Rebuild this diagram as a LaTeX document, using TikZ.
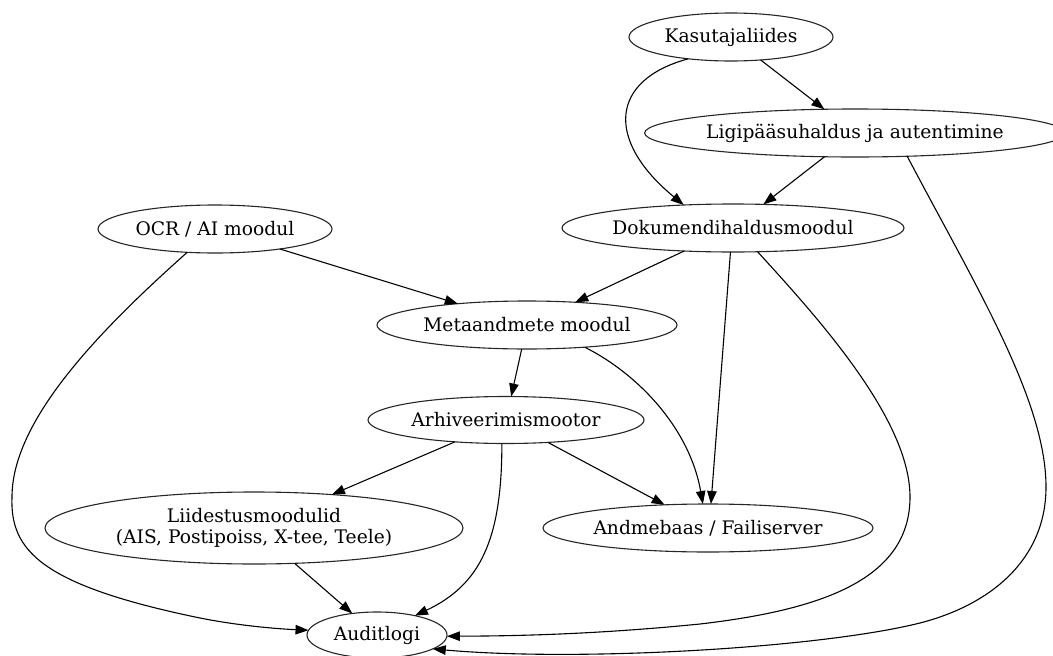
\documentclass[tikz,border=0pt]{standalone}
\usepackage{fontspec}
\setmainfont{DejaVu Serif}
\usetikzlibrary{shapes.geometric,arrows.meta}
\begin{document}
\begin{tikzpicture}[x=1pt,y=-1pt,
  every node/.style={font=\fontsize{18.67}{21}\selectfont},
  box/.style={draw=black!85, line width=1.1pt, ellipse, inner sep=0pt, outer sep=0pt, align=center},
  edge/.style={draw=black, line width=1.1pt, -{Triangle[length=13pt,width=9.5pt]}}]
\useasboundingbox (0,0) rectangle (1053,656);
\clip (0,0) rectangle (1053,656);
\node[box, minimum width=204pt, minimum height=48pt] (k) at (731,37) {Kasutajaliides};
\node[box, minimum width=420pt, minimum height=48pt] (l) at (855,133) {Ligipääsuhaldus ja autentimine};
\node[box, minimum width=342pt, minimum height=48pt] (d) at (733,228) {Dokumendihaldusmoodul};
\node[box, minimum width=234pt, minimum height=48pt] (o) at (215,229) {OCR / AI moodul};
\node[box, minimum width=300pt, minimum height=48pt] (m) at (527,325) {Metaandmete moodul};
\node[box, minimum width=276pt, minimum height=47pt] (r) at (506,420) {Arhiveerimismootor};
\node[box, minimum width=418pt, minimum height=72pt] (li) at (254,528) {Liidestusmoodulid\\(AIS, Postipoiss, X-tee, Teele)};
\node[box, minimum width=330pt, minimum height=48pt] (b) at (708,528) {Andmebaas / Failiserver};
\node[box, minimum width=140pt, minimum height=46pt] (a) at (377,635) {Auditlogi};

\path[edge] (k) -- (l);
\path[edge] (k.207) .. controls (610,80) and (605,140) .. (d.155);
\path[edge] (l) -- (d);
\path[edge] (l.-24) .. controls (975,285) and (1046,400) .. (1046,487)
  .. controls (1046,560) and (990,605) .. (920,623)
  .. controls (820,648) and (580,662) .. (a.-14);
\path[edge] (d) -- (m);
\path[edge] (d.-96) -- (b.83);
\path[edge] (d.-44) .. controls (820,320) and (910,420) .. (910,497)
  .. controls (910,580) and (820,610) .. (700,624)
  .. controls (600,634) and (520,636) .. (a.-1);
\path[edge] (o) -- (m);
\path[edge] (o.220) .. controls (100,330) and (12,420) .. (12,497)
  .. controls (10,550) and (40,585) .. (200,618)
  .. controls (240,626) and (280,629) .. (a.176);
\path[edge] (m) -- (r);
\path[edge] (m.-21) .. controls (640,375) and (690,430) .. (b.102);
\path[edge] (r) -- (li);
\path[edge] (r) -- (b);
\path[edge] (r.-100) .. controls (502,540) and (480,585) .. (a.27);
\path[edge] (li) -- (a);
\end{tikzpicture}
\end{document}
